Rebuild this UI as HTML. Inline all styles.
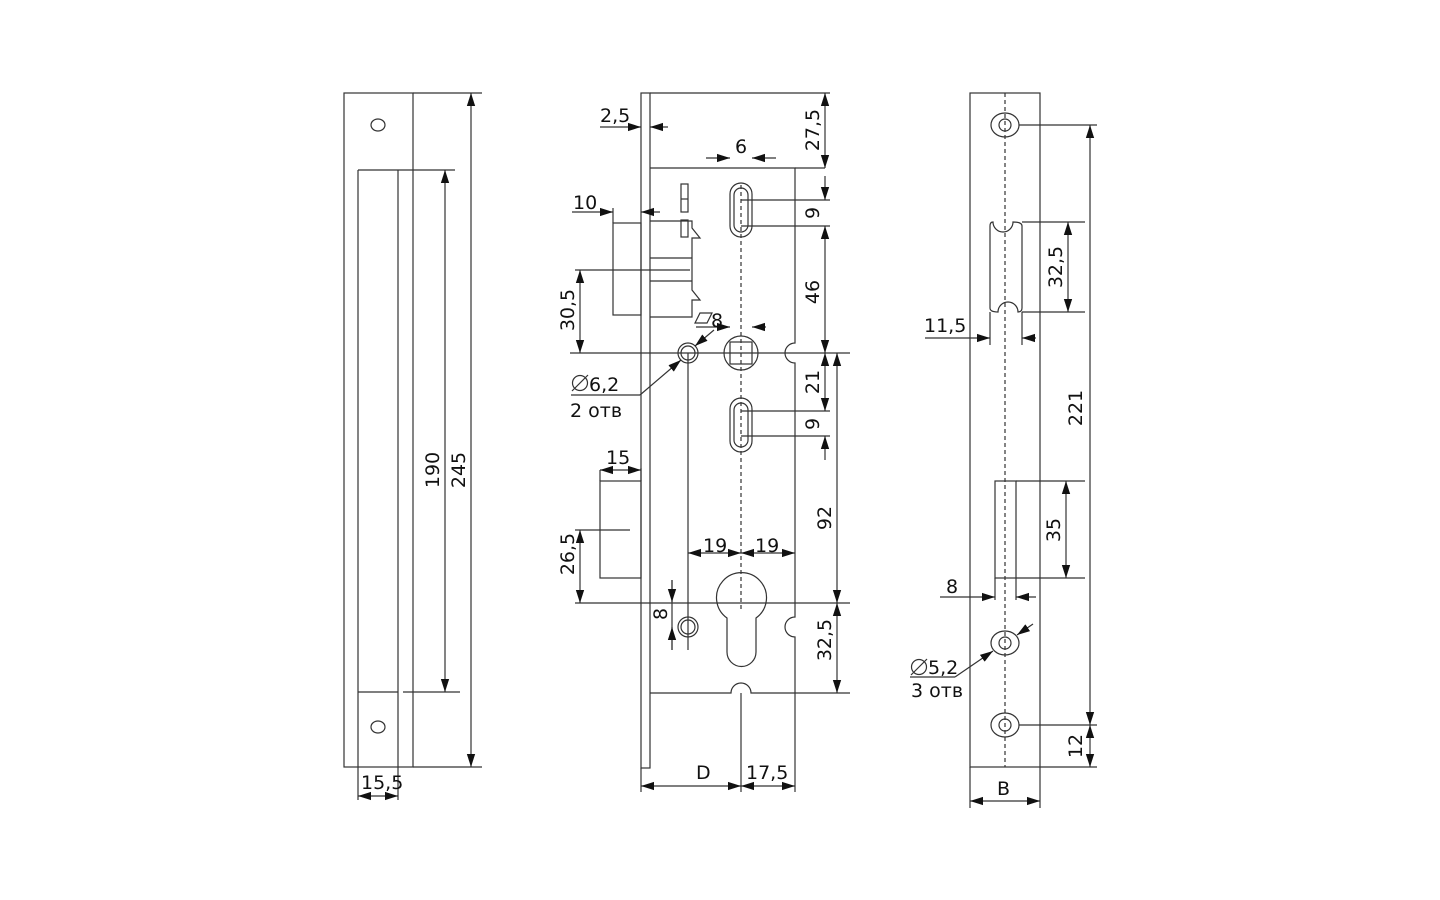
<!DOCTYPE html>
<html><head><meta charset="utf-8"><style>
html,body{margin:0;padding:0;background:#fff}
svg{display:block}
text{font-family:"DejaVu Sans","Liberation Sans",sans-serif;font-size:19px;fill:#111}
</style></head><body>
<svg width="1440" height="900" viewBox="0 0 1440 900" xmlns="http://www.w3.org/2000/svg">
<defs>
<marker id="a" viewBox="0 0 10 10" refX="10" refY="5" markerWidth="13" markerHeight="13" orient="auto-start-reverse" markerUnits="userSpaceOnUse"><path d="M0,1.8 L10,5 L0,8.2z" fill="#111"/></marker>
</defs>
<g fill="none" stroke="#333" stroke-width="1.2">
<!-- LEFT -->
<rect x="344" y="93" width="69" height="674"/>
<line x1="358" y1="170" x2="358" y2="800"/>
<line x1="398" y1="170" x2="398" y2="800"/>
<line x1="358" y1="170" x2="455" y2="170"/>
<line x1="358" y1="692" x2="398" y2="692"/>
<line x1="403" y1="692" x2="460" y2="692"/>
<line x1="413" y1="93" x2="482" y2="93"/>
<line x1="413" y1="767" x2="482" y2="767"/>
<ellipse cx="378" cy="125" rx="7" ry="6"/>
<ellipse cx="378" cy="727" rx="7" ry="6"/>
<line x1="471" y1="93" x2="471" y2="767" marker-start="url(#a)" marker-end="url(#a)"/>
<line x1="445" y1="170" x2="445" y2="692" marker-start="url(#a)" marker-end="url(#a)"/>
<line x1="358" y1="796" x2="398" y2="796" marker-start="url(#a)" marker-end="url(#a)"/>

<!-- MIDDLE -->
<rect x="641" y="93" width="9" height="675"/>
<line x1="650" y1="93" x2="830" y2="93"/>
<path d="M650,168 H795 V343 A10,10 0 0 0 795,363 V617 A10,10 0 0 0 795,637 V693 H751 A10,10 0 0 0 731,693 H650"/>
<line x1="795" y1="168" x2="825" y2="168"/>
<line x1="741" y1="693" x2="741" y2="792"/>
<line x1="795" y1="693" x2="795" y2="792"/>
<line x1="641" y1="768" x2="641" y2="792"/>
<line x1="741" y1="185" x2="741" y2="610" stroke-dasharray="4,3"/>
<rect x="730" y="183" width="22" height="54" rx="11"/>
<rect x="734" y="188" width="14" height="44" rx="7"/>
<rect x="730" y="398" width="22" height="54" rx="11"/>
<rect x="734" y="403" width="14" height="44" rx="7"/>
<line x1="741" y1="200" x2="830" y2="200"/>
<line x1="741" y1="226" x2="830" y2="226"/>
<line x1="741" y1="411" x2="830" y2="411"/>
<line x1="741" y1="436" x2="830" y2="436"/>
<circle cx="741" cy="353" r="17"/>
<rect x="730" y="342" width="22" height="22"/>
<circle cx="688" cy="353" r="10"/><circle cx="688" cy="353" r="7"/>
<circle cx="688" cy="627" r="10"/><circle cx="688" cy="627" r="7"/>
<line x1="688" y1="353" x2="688" y2="650"/>
<path d="M727,618 A25,25 0 1 1 756,618 V652 A14.5,14.5 0 0 1 727,652 Z"/>
<!-- latch -->
<rect x="613" y="223" width="28" height="92"/>
<path d="M650,221 H692 V228 L700,238 L692,238 V290 L700,300 L692,300 V317 H650"/>
<line x1="650" y1="258" x2="692" y2="258"/><line x1="650" y1="281" x2="692" y2="281"/>
<rect x="681" y="184" width="7" height="28"/><line x1="681" y1="199" x2="688" y2="199"/>
<rect x="681" y="220" width="7" height="17"/>
<!-- deadbolt -->
<rect x="600" y="481" width="41" height="97"/>
<!-- extension lines -->
<line x1="570" y1="353" x2="850" y2="353"/>
<line x1="575" y1="603" x2="850" y2="603"/>
<line x1="795" y1="693" x2="850" y2="693"/>
<line x1="575" y1="270" x2="690" y2="270"/>
<line x1="575" y1="530" x2="630" y2="530"/>
<line x1="600" y1="470" x2="600" y2="481"/>
<line x1="641" y1="468" x2="641" y2="481"/>
<line x1="613" y1="208" x2="613" y2="223"/>
<line x1="672" y1="580" x2="672" y2="650"/>
<!-- dims -->
<line x1="825" y1="93" x2="825" y2="168" marker-start="url(#a)" marker-end="url(#a)"/>
<line x1="825" y1="176" x2="825" y2="200" marker-end="url(#a)"/>
<line x1="825" y1="226" x2="825" y2="353" marker-start="url(#a)" marker-end="url(#a)"/>
<line x1="825" y1="353" x2="825" y2="411" marker-start="url(#a)" marker-end="url(#a)"/>
<line x1="825" y1="460" x2="825" y2="436" marker-end="url(#a)"/>
<line x1="837" y1="353" x2="837" y2="603" marker-start="url(#a)" marker-end="url(#a)"/>
<line x1="837" y1="603" x2="837" y2="693" marker-start="url(#a)" marker-end="url(#a)"/>
<line x1="600" y1="127" x2="641" y2="127" marker-end="url(#a)"/>
<line x1="668" y1="127" x2="650" y2="127" marker-end="url(#a)"/>
<line x1="706" y1="158" x2="730" y2="158" marker-end="url(#a)"/>
<line x1="776" y1="158" x2="752" y2="158" marker-end="url(#a)"/>
<line x1="572" y1="212" x2="613" y2="212" marker-end="url(#a)"/>
<line x1="660" y1="212" x2="641" y2="212" marker-end="url(#a)"/>
<line x1="580" y1="270" x2="580" y2="353" marker-start="url(#a)" marker-end="url(#a)"/>
<line x1="696" y1="327" x2="730" y2="327" marker-end="url(#a)"/>
<line x1="766" y1="327" x2="752" y2="327" marker-end="url(#a)"/>
<line x1="600" y1="470" x2="641" y2="470" marker-start="url(#a)" marker-end="url(#a)"/>
<line x1="580" y1="530" x2="580" y2="603" marker-start="url(#a)" marker-end="url(#a)"/>
<line x1="688" y1="553" x2="741" y2="553" marker-start="url(#a)" marker-end="url(#a)"/>
<line x1="741" y1="553" x2="795" y2="553" marker-start="url(#a)" marker-end="url(#a)"/>
<line x1="672" y1="580" x2="672" y2="602" marker-end="url(#a)"/>
<line x1="672" y1="650" x2="672" y2="627" marker-end="url(#a)"/>
<line x1="641" y1="786" x2="741" y2="786" marker-start="url(#a)" marker-end="url(#a)"/>
<line x1="741" y1="786" x2="795" y2="786" marker-start="url(#a)" marker-end="url(#a)"/>
<line x1="571" y1="395" x2="640" y2="395"/>
<line x1="640" y1="395" x2="681" y2="360" marker-end="url(#a)"/>
<line x1="714" y1="330" x2="695" y2="346" marker-end="url(#a)"/>
<path d="M700,313 H712 L707,323 H695 Z"/>

<!-- RIGHT -->
<rect x="970" y="93" width="70" height="674"/>
<line x1="1005" y1="93" x2="1005" y2="767" stroke-dasharray="4,3"/>
<ellipse cx="1005" cy="125" rx="14" ry="12"/><circle cx="1005" cy="125" r="6"/>
<ellipse cx="1005" cy="643" rx="14" ry="12"/><circle cx="1005" cy="643" r="6"/>
<ellipse cx="1005" cy="725" rx="14" ry="12"/><circle cx="1005" cy="725" r="6"/>
<path d="M990,226 Q990,222 993,222 A9,9 0 0 0 1013,222 Q1022,222 1022,226 V308 Q1022,312 1018,312 A9,9 0 0 0 998,312 Q990,312 990,308 Z"/>
<line x1="1022" y1="222" x2="1085" y2="222"/>
<line x1="1022" y1="312" x2="1085" y2="312"/>
<line x1="990" y1="312" x2="990" y2="345"/>
<line x1="1022" y1="312" x2="1022" y2="345"/>
<rect x="995" y="481" width="21" height="97"/>
<line x1="1016" y1="481" x2="1085" y2="481"/>
<line x1="1016" y1="578" x2="1085" y2="578"/>
<line x1="995" y1="578" x2="995" y2="600"/>
<line x1="1016" y1="578" x2="1016" y2="600"/>
<line x1="1019" y1="125" x2="1097" y2="125"/>
<line x1="1019" y1="725" x2="1097" y2="725"/>
<line x1="1040" y1="767" x2="1097" y2="767"/>
<line x1="970" y1="767" x2="970" y2="808"/>
<line x1="1040" y1="767" x2="1040" y2="808"/>
<line x1="1068" y1="222" x2="1068" y2="312" marker-start="url(#a)" marker-end="url(#a)"/>
<line x1="1066" y1="481" x2="1066" y2="578" marker-start="url(#a)" marker-end="url(#a)"/>
<line x1="1090" y1="125" x2="1090" y2="725" marker-start="url(#a)" marker-end="url(#a)"/>
<line x1="1090" y1="725" x2="1090" y2="767" marker-start="url(#a)" marker-end="url(#a)"/>
<line x1="970" y1="801" x2="1040" y2="801" marker-start="url(#a)" marker-end="url(#a)"/>
<line x1="925" y1="338" x2="990" y2="338" marker-end="url(#a)"/>
<line x1="1036" y1="338" x2="1022" y2="338" marker-end="url(#a)"/>
<line x1="940" y1="597" x2="995" y2="597" marker-end="url(#a)"/>
<line x1="1036" y1="597" x2="1016" y2="597" marker-end="url(#a)"/>
<line x1="910" y1="677" x2="955" y2="677"/>
<line x1="955" y1="677" x2="993" y2="651" marker-end="url(#a)"/>
<line x1="1033" y1="624" x2="1017" y2="635" marker-end="url(#a)"/>
<!-- diameter symbols -->
<circle cx="580" cy="383" r="7.5"/><line x1="572" y1="391" x2="588" y2="375"/>
<circle cx="919" cy="667" r="7.5"/><line x1="911" y1="675" x2="927" y2="659"/>
</g>
<!-- texts -->
<text x="361" y="789" font-size="17">15,5</text>
<text transform="translate(439,470) rotate(-90)" text-anchor="middle">190</text>
<text transform="translate(465,470) rotate(-90)" text-anchor="middle">245</text>
<text x="600" y="122">2,5</text>
<text x="735" y="153">6</text>
<text x="573" y="209">10</text>
<text x="711" y="327">8</text>
<text x="589" y="391">6,2</text>
<text x="570" y="417">2 отв</text>
<text x="606" y="464">15</text>
<text x="703" y="552">19</text>
<text x="755" y="552">19</text>
<text x="696" y="779">D</text>
<text x="746" y="779">17,5</text>
<text transform="translate(819,130) rotate(-90)" text-anchor="middle">27,5</text>
<text transform="translate(819,213) rotate(-90)" text-anchor="middle">9</text>
<text transform="translate(819,292) rotate(-90)" text-anchor="middle">46</text>
<text transform="translate(819,382) rotate(-90)" text-anchor="middle">21</text>
<text transform="translate(819,424) rotate(-90)" text-anchor="middle">9</text>
<text transform="translate(831,518) rotate(-90)" text-anchor="middle">92</text>
<text transform="translate(831,640) rotate(-90)" text-anchor="middle">32,5</text>
<text transform="translate(574,310) rotate(-90)" text-anchor="middle">30,5</text>
<text transform="translate(574,554) rotate(-90)" text-anchor="middle">26,5</text>
<text transform="translate(667,614) rotate(-90)" text-anchor="middle" font-size="16">8</text>
<text x="924" y="332">11,5</text>
<text x="946" y="593">8</text>
<text x="928" y="674">5,2</text>
<text x="911" y="697">3 отв</text>
<text x="997" y="795">B</text>
<text transform="translate(1062,267) rotate(-90)" text-anchor="middle">32,5</text>
<text transform="translate(1060,530) rotate(-90)" text-anchor="middle">35</text>
<text transform="translate(1082,408) rotate(-90)" text-anchor="middle">221</text>
<text transform="translate(1082,746) rotate(-90)" text-anchor="middle">12</text>
</svg>
</body></html>
